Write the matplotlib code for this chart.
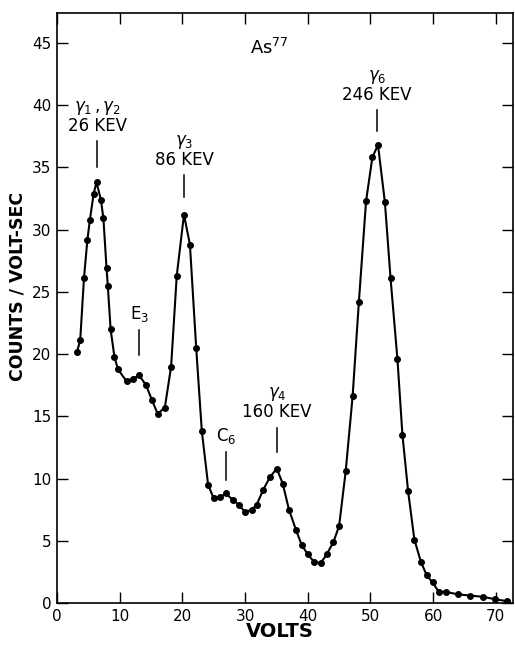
import matplotlib
matplotlib.use('Agg')
import matplotlib.pyplot as plt

# As77 spectrum
volts = [3.2, 3.7, 4.3, 4.85, 5.25, 5.85, 6.3, 7.0, 7.4, 7.9, 8.1, 8.55, 9.15, 9.7,
         11.1, 12.05, 13.1, 14.2, 15.15, 16.05, 17.2, 18.2, 19.1, 20.25, 21.2, 22.2,
         23.1, 24.1, 25.0, 26.0, 26.95, 28.0, 29.0, 30.0, 31.05, 31.85, 32.9, 33.95,
         35.05, 36.0, 37.0, 38.1, 39.0, 40.0, 41.0, 42.05, 43.0, 44.1, 45.0, 46.05,
         47.15, 48.15, 49.3, 50.3, 51.2, 52.3, 53.2, 54.3, 55.1, 56.0, 57.0, 58.05,
         58.95, 59.9, 60.9, 62.0, 63.9, 65.9, 67.9, 69.9, 71.8]
counts = [20.2, 21.1, 26.1, 29.2, 30.8, 32.9, 33.8, 32.4, 30.9, 26.9, 25.5, 22.0, 19.8, 18.8,
          17.8, 18.0, 18.3, 17.5, 16.3, 15.2, 15.7, 19.0, 26.3, 31.2, 28.8, 20.5,
          13.8, 9.5, 8.4, 8.5, 8.8, 8.3, 7.9, 7.3, 7.5, 7.9, 9.1, 10.1,
          10.8, 9.6, 7.5, 5.9, 4.7, 3.9, 3.3, 3.2, 3.9, 4.9, 6.2, 10.6,
          16.6, 24.2, 32.3, 35.8, 36.8, 32.2, 26.1, 19.6, 13.5, 9.0, 5.1, 3.3,
          2.25, 1.65, 0.9, 0.9, 0.7, 0.6, 0.5, 0.3, 0.15]

# peak labels: (text lines, x, marker line top, marker line bottom)
peaks = [
    (['$\\gamma_1\\,,\\gamma_2$', '26 KEV'], 6.4, 37.1, 35.0),
    (['$\\gamma_3$', '86 KEV'], 20.3, 34.4, 32.6),
    (['E$_3$'], 13.1, 21.9, 19.9),
    (['C$_6$'], 27.0, 12.1, 9.9),
    (['$\\gamma_4$', '160 KEV'], 35.1, 14.1, 12.1),
    (['$\\gamma_6$', '246 KEV'], 51.0, 39.6, 37.9),
]

plt.rcParams['font.family'] = ['DejaVu Sans']
plt.rcParams['mathtext.fontset'] = 'dejavusans'

fig = plt.figure(figsize=(5.15, 6.45), dpi=100)
ax = fig.add_axes([0.1107, 0.0651, 0.885, 0.9147])

ax.plot(volts, counts, color='black', lw=1.5, marker='o', ms=4, zorder=3)

for lines, x, y0, y1 in peaks:
    ax.plot([x, x], [y0, y1], color='black', lw=1.1)
    ax.text(x, y0 + 0.5, '\n'.join(lines), ha='center', va='bottom',
            fontsize=12, linespacing=1.0)

ax.text(33.8, 44.6, 'As$^{77}$', ha='center', va='center', fontsize=13)

ax.set_xlim(0, 72.7)
ax.set_ylim(0, 47.4)
ax.set_xticks(range(0, 71, 10))
ax.set_yticks(range(0, 46, 5))
ax.tick_params(direction='in', length=8, width=1, top=True, right=True,
               labelsize=11, pad=4)
for s in ax.spines.values():
    s.set_linewidth(1.2)

ax.set_xlabel('VOLTS', fontsize=14, fontweight='bold', labelpad=0)
ax.xaxis.set_label_coords(0.488, -0.033)
ax.set_ylabel('COUNTS / VOLT-SEC', fontsize=12.5, fontweight='bold')
ax.yaxis.set_label_coords(-0.068, 0.536)

fig.savefig('out.png', dpi=100)
